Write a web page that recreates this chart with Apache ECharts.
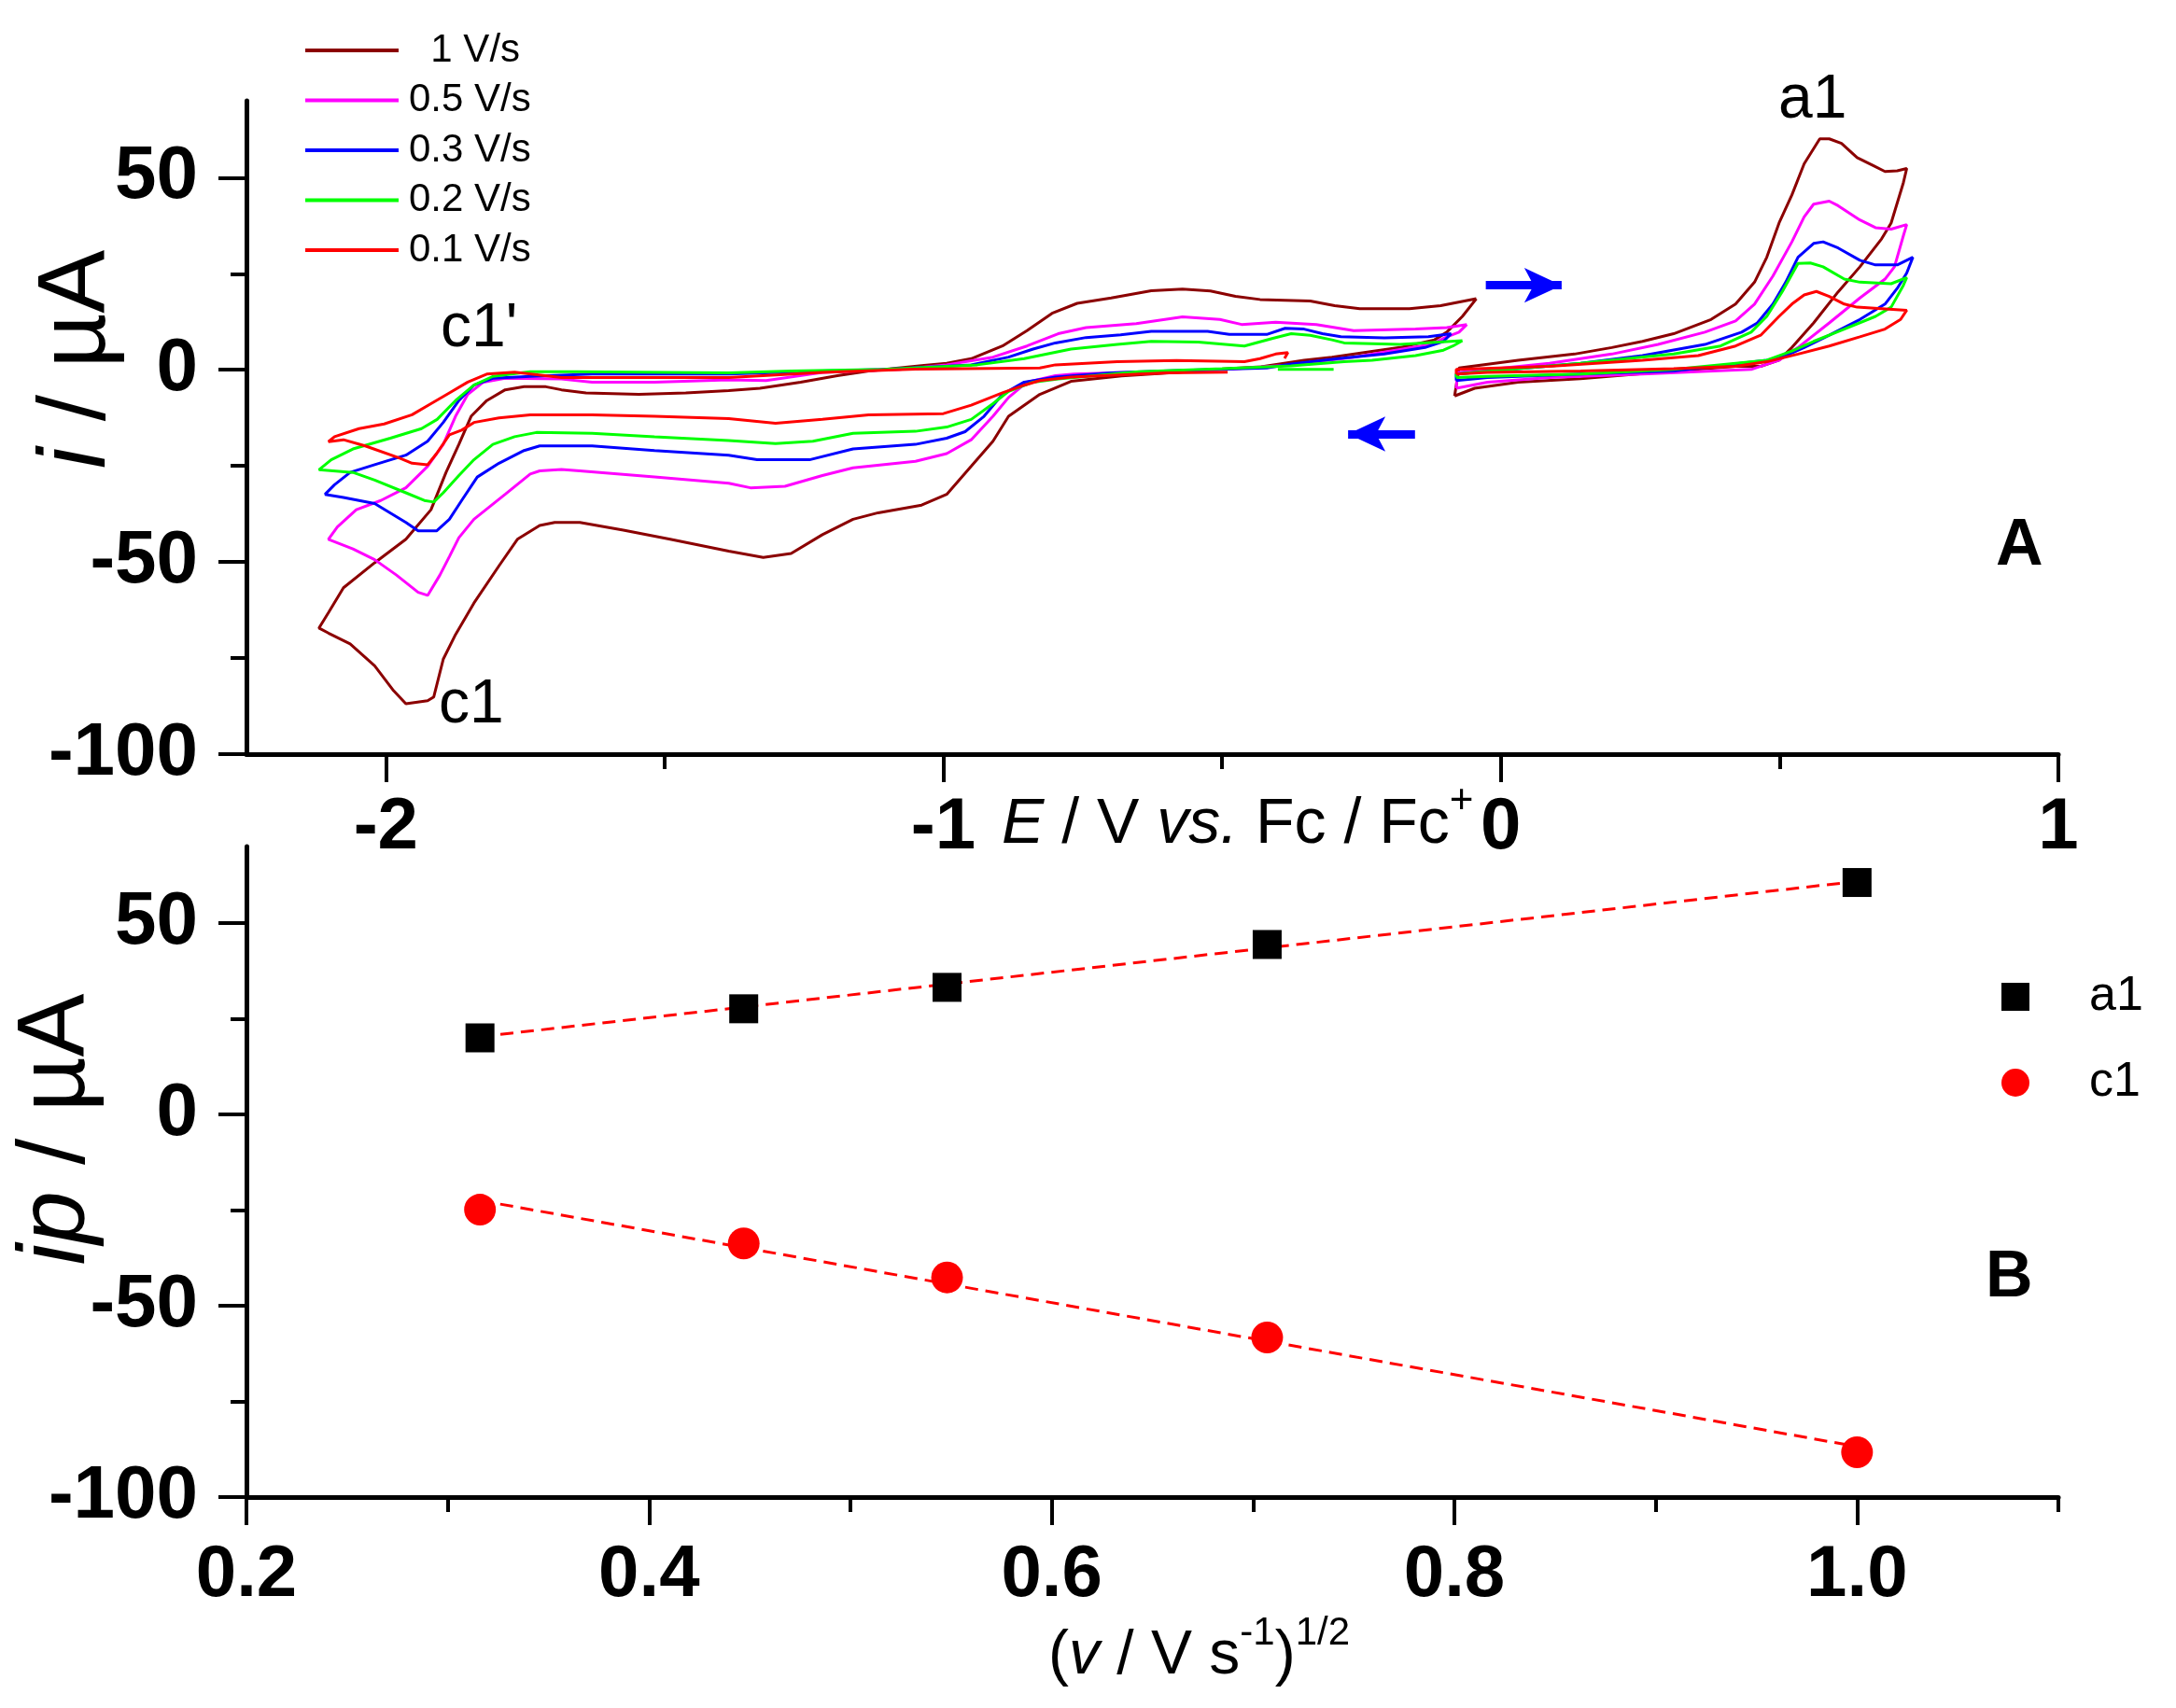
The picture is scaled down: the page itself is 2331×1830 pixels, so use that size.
<!DOCTYPE html>
<html>
<head>
<meta charset="utf-8">
<title>CV at different scan rates</title>
<script src="https://cdn.jsdelivr.net/npm/echarts@6/dist/echarts.min.js"></script>
<style>
html, body { margin: 0; padding: 0; background: #fff; }
#main { width: 2331px; height: 1830px; }
</style>
</head>
<body>
<div id="main"></div>
<script>
// panel A: cyclic voltammograms, [E / V, i / uA]
var cv1Left = [[-0.044,18.5],[-0.069,13.9],[-0.097,9.8],[-0.119,7.8],[-0.181,5.8],[-0.231,4.8],[-0.303,3.3],[-0.353,2.5],[-0.43,0.8],[-0.49,0.3],[-0.582,-0.7],[-0.68,-1.6],[-0.771,-3.0],[-0.827,-6.4],[-0.883,-12.1],[-0.911,-18.6],[-0.950,-25.1],[-0.994,-32.4],[-1.039,-35.2],[-1.117,-37.2],[-1.162,-38.9],[-1.217,-42.9],[-1.273,-47.8],[-1.323,-48.8],[-1.385,-47.2],[-1.490,-44.1],[-1.574,-41.7],[-1.652,-39.7],[-1.697,-39.7],[-1.724,-40.5],[-1.764,-44.1],[-1.797,-51.0],[-1.842,-60.7],[-1.875,-68.9],[-1.897,-75.3],[-1.914,-85.1],[-1.925,-86.1],[-1.964,-86.9],[-1.986,-83.5],[-2.020,-77.0],[-2.064,-71.3],[-2.103,-68.5],[-2.120,-67.2],
  [-2.103,-63.2],[-2.076,-56.7],[-2.020,-50.2],[-1.964,-44.1],[-1.919,-36.4],[-1.892,-26.7],[-1.869,-19.4],[-1.847,-12.1],[-1.819,-8.0],[-1.786,-5.2],[-1.752,-4.4],[-1.713,-4.4],[-1.685,-5.2],[-1.641,-6.0],[-1.546,-6.4],[-1.462,-6.0],[-1.385,-5.4],[-1.329,-4.8],[-1.256,-3.2],[-1.190,-1.5],[-1.134,-0.3],[-1.039,1.1],[-0.994,1.7],[-0.950,2.9],[-0.894,6.2],[-0.850,10.2],[-0.805,14.7],[-0.760,17.3],[-0.699,18.7],[-0.627,20.6],[-0.571,21.0],[-0.521,20.5],[-0.476,19.1],[-0.432,18.3],[-0.342,17.9],[-0.298,16.7],[-0.253,15.9],[-0.164,15.9],[-0.108,16.7],[-0.044,18.5]];
var cv1Right = [[-0.083,-6.8],[-0.075,0.5],[0.031,2.5],[0.132,4.1],[0.199,5.8],[0.254,7.4],[0.310,9.4],[0.377,13.1],[0.421,17.1],[0.455,22.8],[0.477,29.3],[0.499,38.2],[0.522,45.5],[0.544,53.6],[0.572,60.1],[0.589,60.1],[0.611,58.9],[0.639,55.2],[0.667,53.2],[0.689,51.6],[0.711,51.8],[0.728,52.4],[0.722,48.7],[0.700,38.2],[0.683,34.1],[0.644,26.8],[0.605,20.3],[0.561,12.2],[0.522,5.8],[0.499,2.5],[0.466,0.9],[0.421,0.9],[0.310,-0.3],[0.143,-2.3],[0.031,-3.2],[-0.047,-4.8],[-0.083,-6.8]];

var cv05Left = [[-0.061,11.8],[-0.075,9.8],[-0.103,8.2],[-0.125,6.6],[-0.209,4.6],[-0.264,3.3],[-0.331,2.1],[-0.376,1.3],[-0.487,0.2],[-0.582,-0.3],[-0.766,-1.1],[-0.799,-1.5],[-0.850,-3.2],[-0.883,-7.2],[-0.911,-12.1],[-0.950,-18.2],[-0.994,-21.8],[-1.050,-23.8],[-1.162,-25.5],[-1.217,-27.5],[-1.284,-30.3],[-1.346,-30.7],[-1.385,-29.5],[-1.518,-27.9],[-1.652,-26.3],[-1.685,-25.9],[-1.724,-26.3],[-1.741,-27.1],[-1.786,-32.4],[-1.842,-38.9],[-1.869,-43.7],[-1.886,-48.6],[-1.903,-53.4],[-1.925,-58.7],[-1.942,-57.9],[-1.981,-53.4],[-2.020,-49.4],[-2.059,-46.6],[-2.103,-44.1],
  [-2.087,-40.9],[-2.053,-36.4],[-2.009,-34.0],[-1.964,-30.7],[-1.925,-25.1],[-1.897,-19.4],[-1.875,-12.1],[-1.853,-6.4],[-1.825,-3.2],[-1.786,-2.2],[-1.685,-2.4],[-1.630,-3.2],[-1.518,-3.2],[-1.385,-2.6],[-1.318,-2.8],[-1.217,-0.7],[-1.078,0.1],[-0.994,1.3],[-0.911,3.3],[-0.850,6.2],[-0.794,9.4],[-0.744,11.0],[-0.654,12.0],[-0.571,13.8],[-0.504,13.1],[-0.465,11.8],[-0.404,12.4],[-0.331,11.8],[-0.264,10.2],[-0.153,10.6],[-0.097,11.0],[-0.061,11.8]];
var cv05Right = [[-0.080,-4.8],[-0.078,-0.7],[0.087,1.7],[0.199,4.1],[0.282,6.6],[0.366,9.8],[0.421,12.7],[0.455,17.1],[0.488,24.4],[0.522,33.3],[0.544,39.8],[0.561,43.1],[0.589,43.9],[0.605,42.7],[0.644,39.0],[0.672,37.0],[0.700,36.6],[0.728,37.8],[0.722,34.9],[0.706,26.8],[0.689,23.6],[0.644,18.7],[0.589,12.2],[0.533,5.8],[0.499,2.5],[0.449,0.1],[0.254,-1.1],[0.087,-2.0],[-0.024,-3.2],[-0.080,-4.8]];

var cv03Left = [[-0.089,9.4],[-0.103,7.4],[-0.136,5.8],[-0.209,4.1],[-0.292,2.9],[-0.376,1.5],[-0.420,0.5],[-0.582,-0.2],[-0.70,-0.8],[-0.799,-1.9],[-0.855,-3.2],[-0.894,-6.4],[-0.927,-12.1],[-0.961,-16.1],[-0.994,-17.8],[-1.050,-19.4],[-1.162,-20.6],[-1.240,-23.4],[-1.334,-23.4],[-1.385,-22.2],[-1.518,-21.0],[-1.630,-19.8],[-1.724,-19.8],[-1.752,-21.0],[-1.797,-24.3],[-1.836,-27.9],[-1.864,-34.0],[-1.886,-38.9],[-1.909,-41.9],[-1.942,-41.9],[-1.964,-39.7],[-2.020,-34.8],[-2.076,-33.2],[-2.109,-32.4],
  [-2.092,-29.9],[-2.064,-26.7],[-2.020,-24.7],[-1.964,-22.2],[-1.925,-18.6],[-1.897,-13.7],[-1.869,-8.0],[-1.842,-4.0],[-1.808,-2.2],[-1.741,-1.7],[-1.630,-1.1],[-1.385,-1.1],[-1.217,-0.3],[-1.106,0.1],[-0.950,1.3],[-0.883,3.3],[-0.839,5.4],[-0.799,7.0],[-0.744,8.4],[-0.682,9.1],[-0.627,10.0],[-0.526,10.0],[-0.487,9.2],[-0.420,9.2],[-0.387,10.8],[-0.353,10.6],[-0.320,9.4],[-0.287,8.6],[-0.209,8.3],[-0.130,8.6],[-0.089,9.4]];
var cv03Right = [[-0.080,-2.8],[-0.080,-1.1],[0.143,1.7],[0.254,3.7],[0.366,6.6],[0.432,9.8],[0.460,12.2],[0.488,17.1],[0.511,22.8],[0.533,29.3],[0.561,32.9],[0.578,33.3],[0.605,31.7],[0.644,28.5],[0.672,27.3],[0.711,27.3],[0.739,29.3],[0.728,25.2],[0.711,21.2],[0.689,17.1],[0.644,13.1],[0.589,9.0],[0.544,5.8],[0.505,3.3],[0.477,2.5],[0.310,-0.3],[0.143,-1.1],[-0.024,-2.0],[-0.080,-2.8]];

var cv02Left = [[-0.069,7.6],[-0.086,6.2],[-0.103,5.1],[-0.153,3.7],[-0.231,2.5],[-0.281,2.1],[-0.376,1.0],[-0.50,0.3],[-0.65,-0.5],[-0.794,-2.4],[-0.839,-3.2],[-0.883,-5.6],[-0.911,-8.8],[-0.950,-12.9],[-0.994,-14.9],[-1.050,-16.0],[-1.162,-16.5],[-1.234,-18.6],[-1.301,-19.2],[-1.385,-18.4],[-1.518,-17.4],[-1.630,-16.5],[-1.730,-16.3],[-1.769,-17.4],[-1.808,-19.4],[-1.842,-23.4],[-1.869,-27.5],[-1.897,-32.0],[-1.914,-34.4],[-1.931,-34.0],[-1.964,-32.0],[-2.020,-28.7],[-2.059,-26.7],[-2.120,-26.0],
  [-2.098,-23.4],[-2.059,-20.6],[-1.992,-17.8],[-1.936,-15.3],[-1.908,-12.9],[-1.875,-8.0],[-1.842,-4.0],[-1.808,-1.7],[-1.741,-0.5],[-1.658,-0.5],[-1.385,-0.8],[-1.273,-0.3],[-1.106,0.1],[-0.939,1.3],[-0.855,2.9],[-0.771,5.4],[-0.688,6.6],[-0.627,7.4],[-0.543,7.2],[-0.460,6.2],[-0.409,8.2],[-0.376,9.4],[-0.342,9.0],[-0.303,7.8],[-0.281,7.0],[-0.181,6.6],[-0.069,7.6]];
var cv02Start = [[-0.40,0.1],[-0.30,0.1]];
var cv02Right = [[-0.080,-2.0],[-0.080,-1.1],[0.143,1.7],[0.310,4.1],[0.394,6.2],[0.449,9.8],[0.477,13.9],[0.505,20.4],[0.533,27.7],[0.555,27.8],[0.578,26.8],[0.616,23.6],[0.644,22.8],[0.700,22.4],[0.728,24.0],[0.722,22.0],[0.700,16.3],[0.672,13.9],[0.616,10.6],[0.561,7.4],[0.522,4.9],[0.477,2.5],[0.310,0.1],[0.143,-1.1],[-0.024,-1.7],[-0.080,-2.0]];

var cv01Left = [[-0.49,-0.6],[-0.60,-0.8],[-0.771,-1.9],[-0.827,-2.8],[-0.855,-4.0],[-0.894,-6.0],[-0.950,-9.2],[-1.000,-11.4],[-1.134,-11.7],[-1.217,-12.9],[-1.301,-13.9],[-1.385,-12.7],[-1.518,-12.1],[-1.630,-11.7],[-1.741,-11.7],[-1.797,-12.5],[-1.842,-13.7],[-1.864,-15.7],[-1.886,-16.9],[-1.909,-21.8],[-1.925,-24.7],[-1.953,-24.3],[-1.975,-23.0],[-2.037,-19.8],[-2.076,-18.2],[-2.103,-18.7],
  [-2.092,-17.4],[-2.048,-15.3],[-2.003,-14.1],[-1.953,-11.7],[-1.919,-8.8],[-1.886,-6.0],[-1.853,-3.2],[-1.819,-1.1],[-1.769,-0.6],[-1.685,-2.0],[-1.574,-2.0],[-1.385,-2.0],[-1.217,-0.7],[-1.050,0.2],[-0.827,0.5],[-0.799,1.3],[-0.688,2.1],[-0.582,2.4],[-0.460,2.1],[-0.432,2.9],[-0.404,4.1],[-0.382,4.5],[-0.388,3.0]];
var cv01Right = [[-0.080,-1.1],[-0.080,0.1],[0.087,0.9],[0.254,2.5],[0.354,3.7],[0.421,6.2],[0.466,9.0],[0.499,13.9],[0.522,17.1],[0.544,19.5],[0.566,20.4],[0.589,19.1],[0.616,17.1],[0.639,16.3],[0.728,15.5],[0.717,13.1],[0.689,10.6],[0.644,8.6],[0.589,6.2],[0.533,4.1],[0.477,2.1],[0.421,0.9],[0.310,0.3],[0.143,-0.3],[-0.024,-0.7],[-0.080,-1.1]];

var rateNames = ['1 V/s', '0.5 V/s', '0.3 V/s', '0.2 V/s', '0.1 V/s'];
var ratePieces = [[cv1Left, cv1Right], [cv05Left, cv05Right], [cv03Left, cv03Right], [cv02Left, cv02Start, cv02Right], [cv01Left, cv01Right]];

// scan direction arrows, [E, i] (tail, tip)
var arrowFwd = [[-0.027, 22.0], [0.109, 22.0]];
var arrowBack = [[-0.154, -16.7], [-0.274, -16.7]];

// panel B: peak currents vs sqrt(scan rate)
var sqrtRate = [0.316, 0.447, 0.548, 0.707, 1.0];
var ipA1 = [20.0, 27.6, 33.2, 44.4, 60.6];
var ipC1 = [-24.9, -33.7, -42.6, -58.3, -88.3];
var fitA1 = [[0.316, 20.3], [1.0, 60.9]];
var fitC1 = [[0.316, -22.5], [1.0, -86.8]];

// ticks
var eMajor = [-2, -1, 0, 1];
var eMinor = [-1.5, -0.5, 0.5];
var iMajor = [-100, -50, 0, 50];
var iMinor = [-75, -25, 25];
var vMajor = [0.2, 0.4, 0.6, 0.8, 1.0];
var vMinor = [0.3, 0.5, 0.7, 0.9, 1.1];

var font = "'Liberation Sans', Arial, Helvetica, sans-serif";
var rateColors = ['#8b0000', '#ff00ff', '#0000ff', '#00ff00', '#ff0000'];

function mainX(grid, min, max, ticks, fmt, margin) {
    return {
        gridIndex: grid, type: 'value', min: min, max: max, position: 'bottom',
        axisLine: {onZero: false, lineStyle: {color: '#000', width: 5}},
        axisTick: {customValues: ticks, length: 30, lineStyle: {color: '#000', width: 4}},
        axisLabel: {customValues: ticks, margin: margin, color: '#000', fontSize: 78, fontWeight: 'bold', fontFamily: font, formatter: fmt},
        splitLine: {show: false}
    };
}
function minorX(grid, min, max, ticks) {
    return {
        gridIndex: grid, type: 'value', min: min, max: max, position: 'bottom',
        axisLine: {show: false, onZero: false},
        axisTick: {customValues: ticks, length: 16, lineStyle: {color: '#000', width: 4}},
        axisLabel: {show: false}, splitLine: {show: false}
    };
}
function mainY(grid) {
    return {
        gridIndex: grid, type: 'value', min: -100, max: 70, position: 'left',
        axisLine: {onZero: false, lineStyle: {color: '#000', width: 5}},
        axisTick: {customValues: iMajor, length: 30, lineStyle: {color: '#000', width: 4}},
        axisLabel: {customValues: iMajor, margin: 52, color: '#000', fontSize: 80, fontWeight: 'bold', fontFamily: font},
        splitLine: {show: false}
    };
}
function minorY(grid) {
    return {
        gridIndex: grid, type: 'value', min: -100, max: 70, position: 'left',
        axisLine: {show: false, onZero: false},
        axisTick: {customValues: iMinor, length: 17, lineStyle: {color: '#000', width: 4}},
        axisLabel: {show: false}, splitLine: {show: false}
    };
}

var series = [];
for (var i = 0; i < ratePieces.length; i++) {
    for (var j = 0; j < ratePieces[i].length; j++) {
        series.push({
            name: rateNames[i], type: 'line', xAxisIndex: 0, yAxisIndex: 0,
            data: ratePieces[i][j], symbol: 'none', showSymbol: false,
            lineStyle: {color: rateColors[i], width: 3},
            itemStyle: {color: rateColors[i]}
        });
    }
}
// arrows
series.push({
    name: 'arrows', type: 'line', xAxisIndex: 0, yAxisIndex: 0, data: [],
    markLine: {
        silent: true, symbol: ['none', 'arrow'], symbolSize: [28, 40],
        label: {show: false},
        lineStyle: {color: '#0000ff', width: 9, type: 'solid'},
        data: [
            [{coord: arrowFwd[0]}, {coord: arrowFwd[1]}],
            [{coord: arrowBack[0]}, {coord: arrowBack[1]}]
        ]
    }
});

var fitStyle = {color: '#ff0000', width: 3, type: [14, 8]};
series.push({name: 'fit a1', type: 'line', xAxisIndex: 2, yAxisIndex: 2, data: fitA1, symbol: 'none', lineStyle: fitStyle});
series.push({name: 'fit c1', type: 'line', xAxisIndex: 2, yAxisIndex: 2, data: fitC1, symbol: 'none', lineStyle: fitStyle});
series.push({
    name: 'a1', type: 'scatter', xAxisIndex: 2, yAxisIndex: 2, z: 4,
    data: sqrtRate.map(function (v, k) { return [v, ipA1[k]]; }),
    symbol: 'rect', symbolSize: 31, itemStyle: {color: '#000', opacity: 1}
});
series.push({
    name: 'c1', type: 'scatter', xAxisIndex: 2, yAxisIndex: 2, z: 4,
    data: sqrtRate.map(function (v, k) { return [v, ipC1[k]]; }),
    symbol: 'circle', symbolSize: 34, itemStyle: {color: '#ff0000', opacity: 1}
});

function txt(x, y, text, size, extra) {
    var el = {type: 'text', x: x, y: y, z: 100,
        style: {text: text, fontSize: size, fontFamily: font, fill: '#000', align: 'left', verticalAlign: 'middle'}};
    for (var k in extra) { el.style[k] = extra[k]; }
    return el;
}
var richTitle = function (size) {
    return {
        n: {fontSize: size, fontFamily: font, fill: '#000', lineHeight: size + 26},
        i: {fontSize: size, fontFamily: font, fontStyle: 'italic', fill: '#000', lineHeight: size + 26},
        sup: {fontSize: Math.round(size * 0.64), fontFamily: font, fill: '#000', verticalAlign: 'top', lineHeight: Math.round(size * 0.64)}
    };
};

var yTitleA = txt(84, 385, '{i|i}{n| / µA}', 102, {align: 'center', rich: richTitle(102)});
yTitleA.rotation = Math.PI / 2;
var yTitleB = txt(62, 1210, '{i|ip}{n| / µA}', 102, {align: 'center', rich: richTitle(102)});
yTitleB.rotation = Math.PI / 2;

var graphics = [
    yTitleA, yTitleB,
    txt(1073, 884, '{i|E}{n| / V }{i|vs.}{n| Fc / Fc}{sup|+}', 68, {rich: richTitle(68)}),
    txt(1123, 1775, '{n|(}{i|v}{n| / V s}{sup|-1}{n|)}{sup|1/2}', 66, {rich: richTitle(66)}),
    txt(1905, 108, 'a1', 66),
    txt(472, 353, "c1'", 66),
    txt(470, 756, 'c1', 66),
    txt(2138, 586, 'A', 70, {fontWeight: 'bold'}),
    txt(2127, 1370, 'B', 70, {fontWeight: 'bold'})
];

var option = {
    animation: false,
    backgroundColor: '#ffffff',
    grid: [
        {left: 264, top: 108, width: 1941, height: 700, outerBoundsMode: 'none'},
        {left: 264, top: 907, width: 1941, height: 697, outerBoundsMode: 'none'}
    ],
    xAxis: [
        mainX(0, -2.25, 1, eMajor, null, 40),
        minorX(0, -2.25, 1, eMinor),
        mainX(1, 0.2, 1.1, vMajor, function (v) { return v.toFixed(1); }, 45),
        minorX(1, 0.2, 1.1, vMinor)
    ],
    yAxis: [mainY(0), minorY(0), mainY(1), minorY(1)],
    legend: [
        {
            data: rateNames, orient: 'vertical', left: 327, top: 33, padding: 0,
            icon: 'rect', itemWidth: 100, itemHeight: 4, itemGap: 11.5, selectedMode: false,
            formatter: function (name) { return name === '1 V/s' ? '  1 V/s' : name; },
            textStyle: {fontSize: 42, lineHeight: 42, color: '#000', fontFamily: font, padding: [0, 0, 0, 6]}
        },
        {
            data: [{name: 'a1', icon: 'rect'}, {name: 'c1', icon: 'circle'}],
            orient: 'vertical', left: 2144, top: 1042, padding: 0,
            itemWidth: 30, itemHeight: 30, itemGap: 40, selectedMode: false,
            textStyle: {fontSize: 52, lineHeight: 30, color: '#000', fontFamily: font, padding: [0, 0, 0, 59]}
        }
    ],
    graphic: graphics,
    series: series
};

var chart = echarts.init(document.getElementById('main'));
chart.setOption(option);
</script>
</body>
</html>
